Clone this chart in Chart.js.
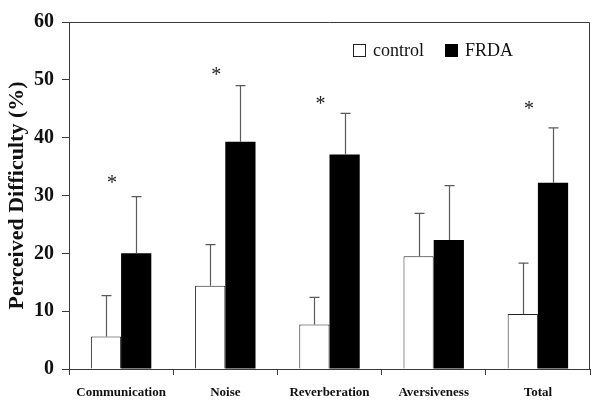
<!DOCTYPE html>
<html>
<head>
<meta charset="utf-8">
<script src="https://cdn.jsdelivr.net/npm/chart.js@4/dist/chart.umd.min.js"></script>
<style>
html,body{margin:0;padding:0;background:#fff;}
#wrap{width:600px;height:402px;position:relative;}
</style>
</head>
<body>
<div id="wrap"><canvas id="c" width="600" height="402"></canvas></div>
<script>
const categories = ["Communication", "Noise", "Reverberation", "Aversiveness", "Total"];
const controlMean = [5.6, 14.4, 7.7, 19.5, 9.5];
const controlErr  = [7.1, 7.1, 4.7, 7.4, 8.8];
const frdaMean    = [20.0, 39.3, 37.1, 22.3, 32.2];
const frdaErr     = [9.8, 9.7, 7.1, 9.4, 9.5];
const sigMarkY    = [32.5, 51.2, 46.2, null, 45.3];
const yTicks      = [0, 10, 20, 30, 40, 50, 60];

const serif = '"Liberation Serif", "Times New Roman", serif';
const lineCol = '#3a3a3a';

const errorBars = {
  id: 'errorBars',
  afterDatasetsDraw(chart) {
    const ctx = chart.ctx, y = chart.scales.y;
    const errs = [controlErr, frdaErr];
    ctx.save();
    ctx.strokeStyle = '#5a5a5a';
    ctx.lineWidth = 1.2;
    chart.data.datasets.forEach((ds, di) => {
      const meta = chart.getDatasetMeta(di);
      meta.data.forEach((bar, i) => {
        const top = y.getPixelForValue(ds.data[i] + errs[di][i]);
        const x = Math.round(bar.x) + 0.5;
        ctx.beginPath();
        ctx.moveTo(x, bar.y);
        ctx.lineTo(x, top);
        ctx.moveTo(x - 5, top);
        ctx.lineTo(x + 5, top);
        ctx.stroke();
      });
    });
    // significance marks
    ctx.fillStyle = '#222';
    ctx.font = '20px ' + serif;
    ctx.textAlign = 'center';
    ctx.textBaseline = 'middle';
    const xs = chart.scales.x;
    sigMarkY.forEach((v, i) => {
      if (v == null) return;
      ctx.fillText('*', xs.getPixelForValue(i) - 9, y.getPixelForValue(v) + 3);
    });
    // frame
    const a = chart.chartArea;
    ctx.strokeStyle = lineCol;
    ctx.lineWidth = 1;
    ctx.beginPath();
    ctx.moveTo(a.left, a.top + 0.5);
    ctx.lineTo(a.right - 0.5, a.top + 0.5);
    ctx.lineTo(a.right - 0.5, a.bottom);
    ctx.stroke();
    // legend
    const lx = a.left + 284, ly = a.top + 22;
    ctx.fillStyle = '#fff';
    ctx.strokeStyle = '#222';
    ctx.fillRect(lx, ly, 13, 13);
    ctx.strokeRect(lx + 0.5, ly + 0.5, 12, 12);
    ctx.fillStyle = '#111';
    ctx.font = '18px ' + serif;
    ctx.textAlign = 'left';
    ctx.textBaseline = 'middle';
    ctx.fillText(chart.data.datasets[0].label, lx + 20, ly + 7);
    ctx.fillStyle = '#000';
    ctx.fillRect(lx + 92, ly, 13, 13);
    ctx.fillStyle = '#111';
    ctx.fillText(chart.data.datasets[1].label, lx + 112, ly + 7);
    ctx.restore();
  }
};

new Chart(document.getElementById('c'), {
  type: 'bar',
  data: {
    labels: categories,
    datasets: [
      { label: 'control', data: controlMean, backgroundColor: '#fff', borderColor: '#222', borderWidth: 1,
        barPercentage: 1.0, categoryPercentage: 0.58 },
      { label: 'FRDA', data: frdaMean, backgroundColor: '#000', borderColor: '#000', borderWidth: 0,
        barPercentage: 1.0, categoryPercentage: 0.58 }
    ]
  },
  options: {
    responsive: false,
    animation: false,
    layout: { padding: { left: 0, right: 10, top: 22, bottom: 0 } },
    plugins: { legend: { display: false }, tooltip: { enabled: false } },
    scales: {
      x: {
        offset: true,
        grid: { drawOnChartArea: false, drawTicks: true, tickLength: 6, color: lineCol, offset: true },
        border: { display: true, color: lineCol, width: 1 },
        ticks: { color: '#111', font: { family: serif, size: 13, weight: 'bold' }, padding: 10, maxRotation: 0 },
        afterFit(s) { s.height = 33; }
      },
      y: {
        min: 0, max: 60,
        afterBuildTicks(s) { s.ticks = yTicks.map(v => ({ value: v })); },
        grid: { drawOnChartArea: false, drawTicks: true, tickLength: 7, color: lineCol },
        border: { display: true, color: lineCol, width: 1 },
        ticks: { color: '#111', font: { family: serif, size: 20, weight: 'bold' }, padding: 8 },
        title: { display: true, text: 'Perceived Difficulty (%)', color: '#111',
                 font: { family: serif, size: 22, weight: 'bold' }, padding: { top: 4, bottom: 0 } },
        afterFit(s) { s.width = 69; }
      }
    }
  },
  plugins: [errorBars]
});
</script>
</body>
</html>
